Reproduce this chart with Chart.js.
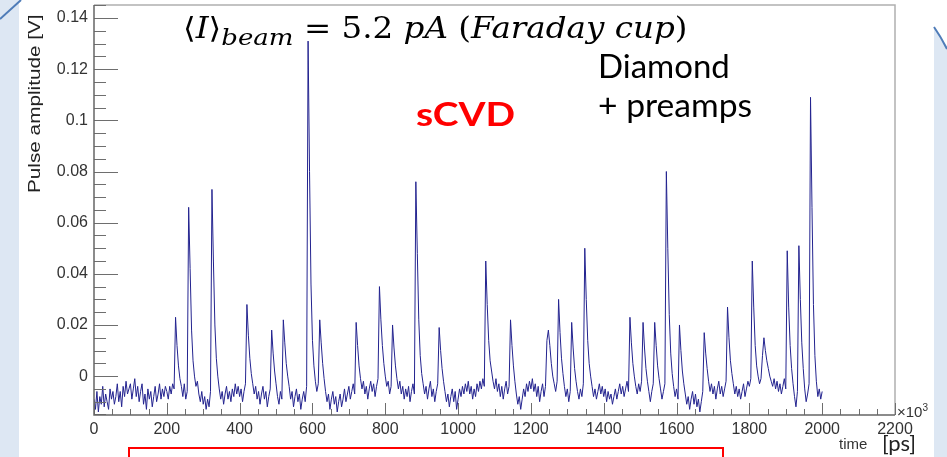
<!DOCTYPE html>
<html>
<head>
<meta charset="utf-8">
<script src="https://cdn.jsdelivr.net/npm/chart.js@4.4.1/dist/chart.umd.min.js"></script>
<style>
  html, body { margin: 0; padding: 0; background: #ffffff; }
  #page { position: relative; width: 947px; height: 457px; overflow: hidden; }
  #deco { position: absolute; left: 0; top: 0; }
  #chart { position: absolute; left: 0; top: 0; }
  .note { position: absolute; white-space: nowrap; line-height: 1; transform-origin: 0 0; }
  #beam { font-family: "DejaVu Serif", serif; font-size: 29px; color: #000; }
  #beam sub { font-size: 0.8em; vertical-align: -0.3em; }
  .calib { font-family: Lato, "Open Sans", sans-serif; color: #000; }
  #redbox { position: absolute; left: 128px; top: 447px; width: 592px; height: 30px; border: 2px solid #ff0000; }
</style>
</head>
<body>
<div id="page">
  <svg id="deco" width="947" height="457">
    <rect x="0" y="0" width="19" height="457" fill="#dde7f3"/>
    <path d="M0,19 L21,0" stroke="#4f7cb8" stroke-width="2" fill="none"/>
    <path d="M934,27 Q941,37 947,49 L947,457 L934,457 Z" fill="#dde7f3"/>
    <path d="M934,27 Q941,37 947,49" stroke="#4f7cb8" stroke-width="2" fill="none"/>
  </svg>
  <canvas id="chart" width="947" height="457"></canvas>

  <div class="note" id="beam" style="left:183px; top:14px;">⟨<i>I</i>⟩<sub><i>beam</i></sub> = 5.2 <i>pA</i> (<i>Faraday cup</i>)</div>
  <div class="note calib" id="diamond" style="left:598px; top:49px; font-size:33px;">Diamond</div>
  <div class="note calib" id="preamps" style="left:598px; top:88px; font-size:33px;">+ preamps</div>
  <div class="note calib" id="scvd" style="left:416px; top:97px; font-size:33px; font-weight:bold; color:#ff0000;">sCVD</div>

  <div class="note" id="ytitle" style="left:26px; top:193px; font-family:'Liberation Sans', Arial, sans-serif; font-size:17px; color:#222;">Pulse amplitude [V]</div>
  <div class="note" style="left:897px; top:403px; font-family:'Liberation Sans', Arial, sans-serif; font-size:15px; color:#333;">×10<sup style="font-size:10px;">3</sup></div>
  <div class="note" style="left:839px; top:436px; font-family:'Liberation Sans', Arial, sans-serif; font-size:15px; color:#333;">time</div>
  <div class="note calib" style="left:882px; top:432px; font-size:22px; color:#222;">[ps]</div>

  <div id="redbox"></div>
</div>

<script>
// ==================================================
// DATA
// ==================================================
// sample spacing along the time axis, in units of 10^3 ps
const sampleStep = 4;

// pulse amplitude in mV, one value every sampleStep from t = 0
const amplitudeMv = [
  -9, -13, -6, -14, -8, -11, -4, -12, -7, -10, -13, -5, -9, -6, -11, -8, -3, -10, -6, -12, -4, -8, -2, -7, -5,
  -3, -9, -5, -1, -8, -4, -10, -6, -3, -11, -7, -13, -5, -9, -6, -12, -8, -4, -10, -7, -3, -9, -5, -8, -4,
  -6, -9, -4, -7, -3, -5, 23, 12, 4, -1, -4, -8, -3, -9, -6, 66, 42, 18, 6, 0, -4, -2, -7, -10, -6,
  -11, -8, -13, -9, -12, -6, 73, 45, 20, 7, 0, -5, -9, -6, -11, -7, -4, -9, -6, -10, -5, -8, -3, -7, -4,
  -8, -5, -10, -6, -3, 28, 16, 7, 1, -3, -7, -4, -9, -6, -11, -7, -4, -9, -6, -12, -8, -5, 18, 9, 2,
  -3, -8, -11, -6, -9, 22, 13, 5, 0, -4, -9, -6, -12, -8, -5, -10, -7, -13, -9, -6, -10, -4, 131, 80, 36,
  14, 4, -2, -6, -3, 22, 13, 5, -1, -6, -10, -7, -13, -9, -6, -11, -8, -14, -10, -7, -12, -9, -5, -10, -7,
  -4, -9, -6, -3, -7, 21, 12, 4, -1, -5, -2, -7, -4, -9, -5, -2, -6, -3, -8, -4, -1, 35, 22, 12, 5,
  0, -4, -2, -7, -4, 20, 11, 4, -1, -5, -2, -7, -4, -9, -5, -8, -4, -10, -6, -3, -7, 76, 48, 22, 8,
  1, -3, -7, -4, -9, -5, -2, -8, -5, -10, -6, -3, 19, 10, 3, -2, -6, -10, -7, -12, -8, -5, -10, -6, -13,
  -9, -5, -8, -4, -7, -3, -6, -2, -7, -4, -9, -5, -8, -3, -6, -2, -5, -1, -4, 45, 28, 14, 6, 2, -2,
  -5, -1, -6, -3, -8, -4, -9, -5, -2, -7, -4, 22, 12, 4, -2, -7, -11, -8, -13, -9, -5, -8, -3, -6, -2,
  -5, -1, -6, -3, -8, -4, -10, -6, -3, -8, -4, 14, 18, 12, 5, 0, -3, -6, -2, 30, 17, 7, 1, -4, -8,
  -5, -10, -6, 21, 11, 3, -2, -6, -9, -5, -8, -3, 50, 30, 14, 5, 0, -4, -8, -5, -9, -6, -3, -7, -4,
  -8, -5, -10, -6, -9, -7, -11, -8, -5, -9, -6, -3, -7, -4, -8, -5, -2, -6, 23, 13, 5, 0, -4, -7, -3,
  -6, -2, 21, 11, 3, -2, -6, -10, -6, -3, 21, 12, 4, -1, -5, -9, -6, -3, 80, 50, 24, 9, 1, -4, -8,
  -5, -9, 20, 10, 2, -3, -7, -11, -8, -13, -9, -6, -11, -7, -12, -9, -14, -10, -6, 17, 9, 3, -2, -6, -3,
  -7, -4, -9, -5, -2, -7, -4, -8, -5, -2, 27, 15, 6, 1, -3, -7, -4, -8, -5, -9, -6, -3, -8, -5, -2,
  -4, -1, 45, 27, 12, 4, 0, -3, -1, 8, 15, 10, 6, 3, 0, -2, -4, -1, -5, -2, -6, -3, -7, -4, -1,
  -5, 49, 27, 12, 3, -3, -8, -12, -6, 51, 30, 13, 3, -5, -10, -7, -3, 109, 66, 28, 8, -2, -8, -5, -9,
  -6
];

// axis ticks
const xTickValues = [0, 200, 400, 600, 800, 1000, 1200, 1400, 1600, 1800, 2000, 2200];
const xTickLabels = ["0", "200", "400", "600", "800", "1000", "1200", "1400", "1600", "1800", "2000", "2200"];
const yTickValues = [0, 0.02, 0.04, 0.06, 0.08, 0.1, 0.12, 0.14];
const yTickLabels = ["0", "0.02", "0.04", "0.06", "0.08", "0.1", "0.12", "0.14"];

// axis ranges
const xMin = 0, xMax = 2200;
const yMin = -0.0152, yMax = 0.1451;

// ==================================================
// HELPERS
// ==================================================
const tracePoints = amplitudeMv.map((mv, i) => ({ x: i * sampleStep, y: mv / 1000 }));

// stretch a text box horizontally to the width it has in the slide
function fitWidth(id, target, extra = "") {
  const el = document.getElementById(id);
  const w = el.offsetWidth;
  el.style.transform = `${extra} scaleX(${target / w})`;
}
fitWidth("beam", 505);
fitWidth("diamond", 132);
fitWidth("preamps", 154);
fitWidth("scvd", 99);
fitWidth("ytitle", 178, "rotate(-90deg)");

// ROOT style frame: inside ticks, grey box
const rootFrame = {
  id: "rootFrame",
  afterDatasetsDraw(chart) {
    const { ctx, chartArea: a, scales: { x, y } } = chart;
    ctx.save();
    ctx.strokeStyle = "#b0b0b0";
    ctx.lineWidth = 1.5;
    ctx.beginPath();
    ctx.moveTo(a.left, a.top);
    ctx.lineTo(a.right, a.top);
    ctx.lineTo(a.right, a.bottom);
    ctx.stroke();

    ctx.strokeStyle = "#6e6e6e";
    ctx.lineWidth = 1;
    ctx.beginPath();
    // x ticks every 50, major every 200
    for (let k = 0; k <= 44; k++) {
      const v = k * 50;
      const px = Math.round(x.getPixelForValue(v)) + 0.5;
      const len = k % 4 === 0 ? 12 : 6;
      ctx.moveTo(px, a.bottom);
      ctx.lineTo(px, a.bottom - len);
    }
    // y ticks every 0.005, major every 0.02
    for (let k = -3; k <= 29; k++) {
      const v = k * 0.005;
      if (v < yMin || v > yMax) continue;
      const py = Math.round(y.getPixelForValue(v)) + 0.5;
      const len = ((k % 4) + 4) % 4 === 0 ? 24 : 12;
      ctx.moveTo(a.left, py);
      ctx.lineTo(a.left + len, py);
    }
    ctx.stroke();

    ctx.strokeStyle = "#666666";
    ctx.lineWidth = 1.5;
    ctx.beginPath();
    ctx.moveTo(a.left, a.top);
    ctx.lineTo(a.left, a.bottom);
    ctx.lineTo(a.right, a.bottom);
    ctx.stroke();
    ctx.restore();
  },
};

// ==================================================
// CHART
// ==================================================
const tickFont = { family: "'Liberation Sans', Arial, sans-serif", size: 16 };

new Chart(document.getElementById("chart"), {
  type: "line",
  data: {
    datasets: [
      {
        label: "sCVD",
        data: tracePoints,
        borderColor: "#23238f",
        borderWidth: 1,
        pointRadius: 0,
        tension: 0,
        fill: false,
      },
    ],
  },
  options: {
    responsive: false,
    animation: false,
    layout: { padding: { top: 5, right: 52, left: 0, bottom: 0 } },
    plugins: { legend: { display: false }, tooltip: { enabled: false } },
    scales: {
      x: {
        type: "linear",
        min: xMin,
        max: xMax,
        afterBuildTicks: (s) => { s.ticks = xTickValues.map((v) => ({ value: v })); },
        afterFit: (s) => { s.height = 42; s.paddingLeft = 0; s.paddingRight = 0; },
        grid: { display: false, drawTicks: false },
        border: { display: false },
        ticks: {
          autoSkip: false,
          maxRotation: 0,
          padding: 5,
          color: "#333",
          font: tickFont,
          callback: (v) => xTickLabels[xTickValues.indexOf(v)],
        },
      },
      y: {
        type: "linear",
        min: yMin,
        max: yMax,
        afterBuildTicks: (s) => { s.ticks = yTickValues.map((v) => ({ value: v })); },
        afterFit: (s) => { s.width = 94; s.paddingTop = 0; s.paddingBottom = 0; },
        grid: { display: false, drawTicks: false },
        border: { display: false },
        ticks: {
          autoSkip: false,
          padding: 6,
          color: "#333",
          font: tickFont,
          callback: (v) => yTickLabels[yTickValues.findIndex((t) => Math.abs(t - v) < 1e-9)],
        },
      },
    },
  },
  plugins: [rootFrame],
});
</script>
</body>
</html>
